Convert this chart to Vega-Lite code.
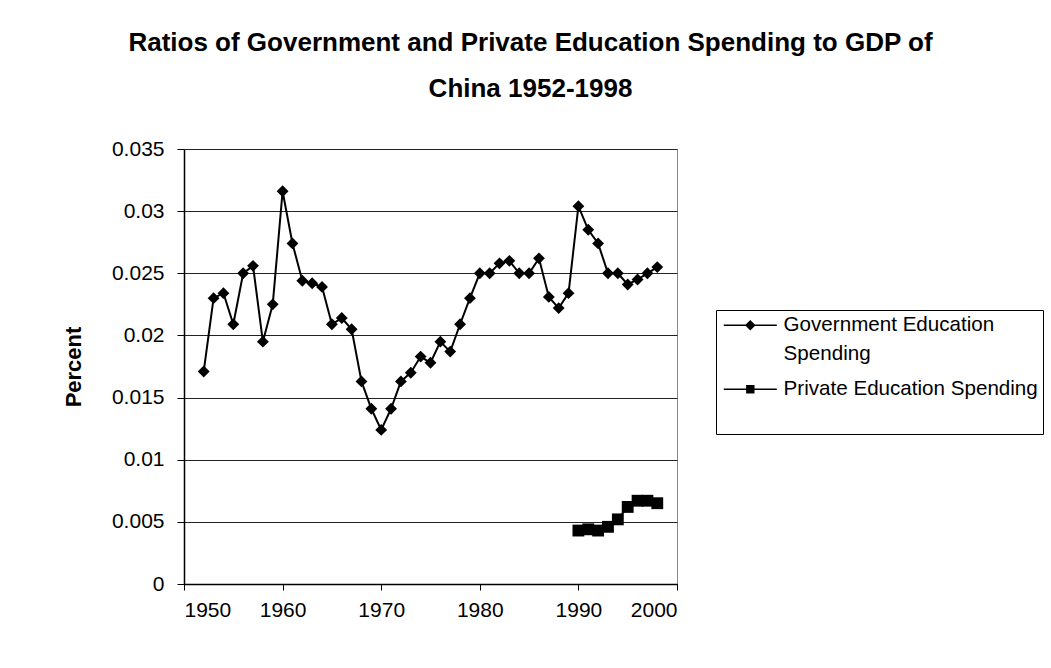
{
  "$schema": "https://vega.github.io/schema/vega-lite/v6.json",
  "width": 493,
  "height": 435,
  "autosize": {"type": "none"},
  "padding": {"left": 184, "top": 149, "right": 374, "bottom": 84},
  "background": "white",
  "title": {
    "text": ["Ratios of Government and Private Education Spending to GDP of", "China 1952-1998"],
    "font": "Liberation Sans",
    "fontSize": 26,
    "fontWeight": "bold",
    "lineHeight": 46,
    "color": "black",
    "anchor": "middle",
    "frame": "group",
    "dx": 100,
    "offset": 36
  },
  "config": {
    "font": "Liberation Sans",
    "view": {"stroke": "#888888", "strokeWidth": 1},
    "style": {"guide-label": {"lineHeight": 29}}
  },
  "data": {
    "values": [
      {"year": 1952, "series": "Government Education Spending", "value": 0.0171},
      {"year": 1953, "series": "Government Education Spending", "value": 0.0230},
      {"year": 1954, "series": "Government Education Spending", "value": 0.0234},
      {"year": 1955, "series": "Government Education Spending", "value": 0.0209},
      {"year": 1956, "series": "Government Education Spending", "value": 0.0250},
      {"year": 1957, "series": "Government Education Spending", "value": 0.0256},
      {"year": 1958, "series": "Government Education Spending", "value": 0.0195},
      {"year": 1959, "series": "Government Education Spending", "value": 0.0225},
      {"year": 1960, "series": "Government Education Spending", "value": 0.0316},
      {"year": 1961, "series": "Government Education Spending", "value": 0.0274},
      {"year": 1962, "series": "Government Education Spending", "value": 0.0244},
      {"year": 1963, "series": "Government Education Spending", "value": 0.0242},
      {"year": 1964, "series": "Government Education Spending", "value": 0.0239},
      {"year": 1965, "series": "Government Education Spending", "value": 0.0209},
      {"year": 1966, "series": "Government Education Spending", "value": 0.0214},
      {"year": 1967, "series": "Government Education Spending", "value": 0.0205},
      {"year": 1968, "series": "Government Education Spending", "value": 0.0163},
      {"year": 1969, "series": "Government Education Spending", "value": 0.0141},
      {"year": 1970, "series": "Government Education Spending", "value": 0.0124},
      {"year": 1971, "series": "Government Education Spending", "value": 0.0141},
      {"year": 1972, "series": "Government Education Spending", "value": 0.0163},
      {"year": 1973, "series": "Government Education Spending", "value": 0.0170},
      {"year": 1974, "series": "Government Education Spending", "value": 0.0183},
      {"year": 1975, "series": "Government Education Spending", "value": 0.0178},
      {"year": 1976, "series": "Government Education Spending", "value": 0.0195},
      {"year": 1977, "series": "Government Education Spending", "value": 0.0187},
      {"year": 1978, "series": "Government Education Spending", "value": 0.0209},
      {"year": 1979, "series": "Government Education Spending", "value": 0.0230},
      {"year": 1980, "series": "Government Education Spending", "value": 0.0250},
      {"year": 1981, "series": "Government Education Spending", "value": 0.0250},
      {"year": 1982, "series": "Government Education Spending", "value": 0.0258},
      {"year": 1983, "series": "Government Education Spending", "value": 0.0260},
      {"year": 1984, "series": "Government Education Spending", "value": 0.0250},
      {"year": 1985, "series": "Government Education Spending", "value": 0.0250},
      {"year": 1986, "series": "Government Education Spending", "value": 0.0262},
      {"year": 1987, "series": "Government Education Spending", "value": 0.0231},
      {"year": 1988, "series": "Government Education Spending", "value": 0.0222},
      {"year": 1989, "series": "Government Education Spending", "value": 0.0234},
      {"year": 1990, "series": "Government Education Spending", "value": 0.0304},
      {"year": 1991, "series": "Government Education Spending", "value": 0.0285},
      {"year": 1992, "series": "Government Education Spending", "value": 0.0274},
      {"year": 1993, "series": "Government Education Spending", "value": 0.0250},
      {"year": 1994, "series": "Government Education Spending", "value": 0.0250},
      {"year": 1995, "series": "Government Education Spending", "value": 0.0241},
      {"year": 1996, "series": "Government Education Spending", "value": 0.0245},
      {"year": 1997, "series": "Government Education Spending", "value": 0.0250},
      {"year": 1998, "series": "Government Education Spending", "value": 0.0255},
      {"year": 1990, "series": "Private Education Spending", "value": 0.0043},
      {"year": 1991, "series": "Private Education Spending", "value": 0.0044},
      {"year": 1992, "series": "Private Education Spending", "value": 0.0043},
      {"year": 1993, "series": "Private Education Spending", "value": 0.0046},
      {"year": 1994, "series": "Private Education Spending", "value": 0.0052},
      {"year": 1995, "series": "Private Education Spending", "value": 0.0062},
      {"year": 1996, "series": "Private Education Spending", "value": 0.0067},
      {"year": 1997, "series": "Private Education Spending", "value": 0.0067},
      {"year": 1998, "series": "Private Education Spending", "value": 0.0065}
    ]
  },
  "encoding": {
    "x": {
      "field": "year",
      "type": "quantitative",
      "scale": {"domain": [1950, 2000], "nice": false, "zero": false},
      "axis": {
        "title": null,
        "values": [1950, 1960, 1970, 1980, 1990, 2000],
        "format": "d",
        "grid": false,
        "domainColor": "black",
        "domainWidth": 1.5,
        "tickColor": "black",
        "tickSize": 6,
        "labelFontSize": 21,
        "labelColor": "black",
        "labelPadding": 9,
        "labelFont": "Liberation Sans"
      }
    },
    "y": {
      "field": "value",
      "type": "quantitative",
      "scale": {"domain": [0, 0.035], "nice": false},
      "axis": {
        "title": "Percent",
        "titleFont": "Liberation Sans",
        "titleFontSize": 22,
        "titleFontWeight": "bold",
        "titleColor": "black",
        "titlePadding": 26,
        "values": [0, 0.005, 0.01, 0.015, 0.02, 0.025, 0.03, 0.035],
        "labelExpr": "format(datum.value, '.3~f')",
        "grid": true,
        "gridColor": "#222222",
        "gridWidth": 1,
        "domainColor": "black",
        "domainWidth": 1.5,
        "tickColor": "black",
        "tickSize": 7,
        "labelFontSize": 21,
        "labelColor": "black",
        "labelPadding": 13,
        "labelFont": "Liberation Sans"
      }
    }
  },
  "resolve": {"scale": {"shape": "independent"}},
  "layer": [
    {
      "mark": {"type": "line", "color": "black", "strokeWidth": 2},
      "encoding": {"detail": {"field": "series", "type": "nominal"}}
    },
    {
      "mark": {"type": "point", "filled": true, "color": "black", "opacity": 1, "size": 140},
      "encoding": {
        "shape": {
          "field": "series",
          "type": "nominal",
          "scale": {"domain": ["Government Education Spending", "Private Education Spending"], "range": ["diamond", "square"]},
          "legend": null
        }
      }
    },
    {
      "transform": [{"filter": "datum.year > 2100"}],
      "mark": {"type": "point", "filled": true, "color": "black", "opacity": 1},
      "encoding": {
        "shape": {
          "field": "series",
          "type": "nominal",
          "scale": {
            "domain": ["Government Education Spending", "Private Education Spending"],
            "range": ["M-2.65,-0.07H2.65V0.07H-2.65ZM0,-0.53L0.53,0L0,0.53L-0.53,0Z", "M-2.65,-0.07H2.65V0.07H-2.65ZM-0.42,-0.42H0.42V0.42H-0.42Z"]
          },
          "legend": {
            "title": " ",
            "titleOrient": "bottom",
            "titleFontSize": 20,
            "titlePadding": 9,
            "orient": "none",
            "legendX": 532,
            "legendY": 161,
            "padding": 5,
            "strokeColor": "black",
            "fillColor": "white",
            "symbolSize": 400,
            "symbolOffset": 19,
            "symbolFillColor": "black",
            "symbolStrokeWidth": 0,
            "labelFont": "Liberation Sans",
            "labelFontSize": 20.6,
            "labelColor": "black",
            "labelOffset": 23,
            "labelLimit": 400,
            "rowPadding": 14,
            "labelExpr": "datum.value == 'Government Education Spending' ? ['Government Education', 'Spending'] : datum.value",
            "encode": {"legend": {"update": {"y": {"value": 313}}}}
          }
        }
      }
    }
  ]
}
